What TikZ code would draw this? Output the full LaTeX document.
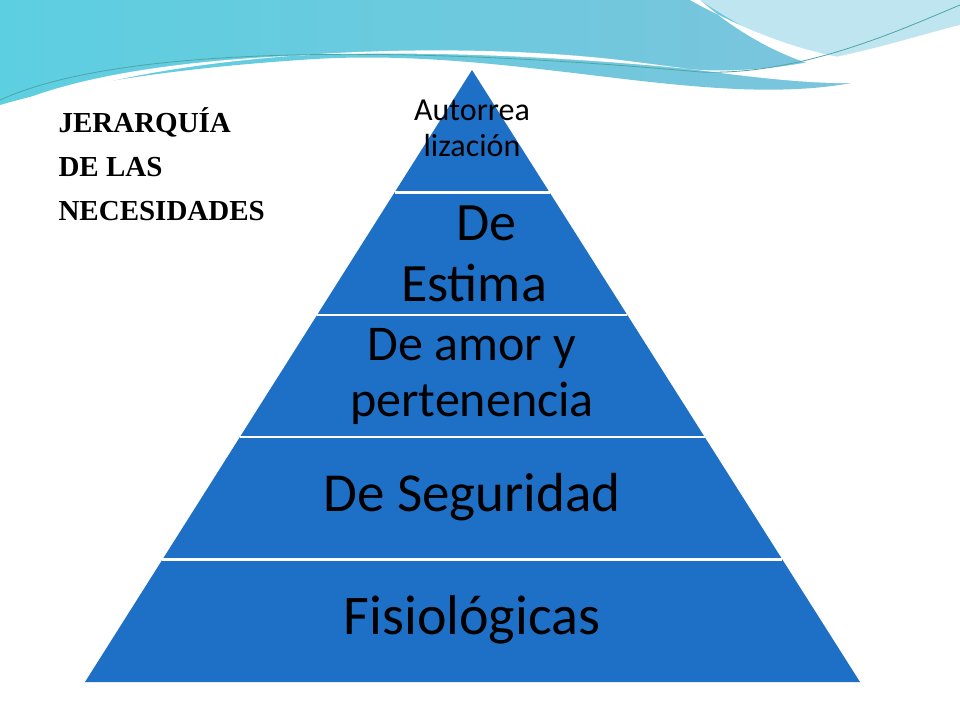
\documentclass[tikz,border=0pt]{standalone}
\usepackage{fontspec}
\setmainfont{Carlito}
\newfontfamily\titlefont{Liberation Serif}
\usetikzlibrary{calc}
\definecolor{pyrblue}{HTML}{1E6FC6}
\definecolor{wavea}{HTML}{7FC3DC}
\definecolor{waveb}{HTML}{BFE6F0}
\definecolor{wavec}{HTML}{5CCFE0}
\tikzset{
  level/.style={font=\fontsize{#1}{1.12\dimexpr#1pt\relax}\selectfont, align=center, text=black},
  title/.style={font=\titlefont\bfseries\fontsize{29}{44}\selectfont, align=left, anchor=north west}
}
\begin{document}
\begin{tikzpicture}[x=1pt,y=-1pt]
  \useasboundingbox (0,0) rectangle (960,720);
  \fill[white] (0,0) rectangle (960,720);
  % waves at the top
  \shade[left color=wavec, right color=wavea] (0,0) -- (960,0) -- (960,40)
     .. controls (800,150) and (560,40) .. (300,60) .. controls (150,70) and (50,90) .. (0,105) -- cycle;
  \fill[waveb] (700,0) .. controls (790,60) and (880,90) .. (960,60) -- (960,0) -- cycle;
  \fill[white] (690,0) .. controls (780,50) and (880,80) .. (960,50) -- (960,62)
     .. controls (880,95) and (780,70) .. (700,0) -- cycle;
  \fill[white] (0,110) .. controls (120,50) and (400,40) .. (700,70) .. controls (800,75) and (900,40) .. (960,25)
     -- (960,60) .. controls (880,100) and (780,80) .. (620,60) .. controls (400,35) and (100,60) .. (0,120) -- cycle;
  \draw[teal!70, line width=0.8] (0,100) .. controls (120,45) and (400,45) .. (700,72) .. controls (800,76) and (900,30) .. (960,5);
  % pyramid
  \coordinate (apex) at (472,70);
  \coordinate (bl) at (85,682);
  \coordinate (br) at (860,682);
  \fill[pyrblue] (apex) -- (bl) -- (br) -- cycle;
  \foreach \t in {0.2,0.4,0.6,0.8} {
    \draw[white, line width=2.5] ($(apex)!\t!(bl)$) -- ($(apex)!\t!(br)$);
  }
  \node[level=32] (self) at (472,128) {Autorrea\\lizaci\'on};
  \node[level=54] (esteem) at (474,254) {\ \ De\\Estima};
  \node[level=50] (love) at (472,376) {De amor y\\pertenencia};
  \node[level=55] (safety) at (472,497) {De Seguridad};
  \node[level=56] (body) at (472,620) {Fisiológicas};
  % title
  \node[title] (title) at (55,104) {JERARQUÍA\\DE LAS\\NECESIDADES};
\end{tikzpicture}
\end{document}
